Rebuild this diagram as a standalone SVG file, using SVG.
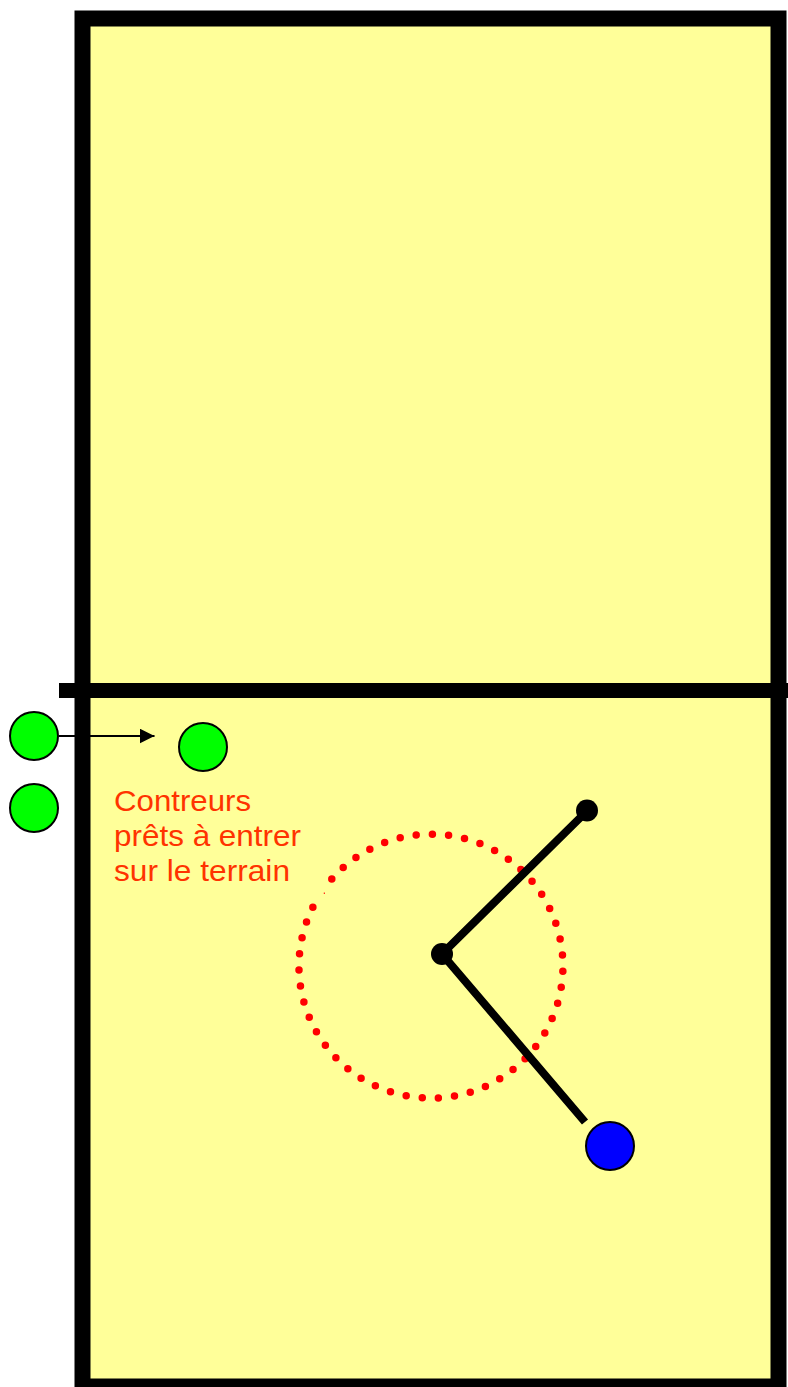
<svg xmlns="http://www.w3.org/2000/svg" width="788" height="1387" viewBox="0 0 788 1387">
<style>
.player{stroke:#000;stroke-width:2}
.green{fill:#00FF00}
.blue{fill:#0000FF}
.lbl{font-family:"Liberation Sans",Arial,sans-serif;font-size:29px;fill:#FF3300}
.arm{stroke:#000;stroke-width:8;fill:none}
</style>
<defs>
<marker id="arr" markerWidth="16" markerHeight="16" refX="15" refY="7.5" orient="auto" markerUnits="userSpaceOnUse" viewBox="0 0 16 16">
<path d="M0,0 L15,7.5 L0,15 z" fill="#000"/>
</marker>
</defs>
<rect width="788" height="1387" fill="#fff"/>
<g id="court">
<rect x="82.5" y="18.5" width="696" height="1368" fill="#FFFF99" stroke="#000" stroke-width="16"/>
<line x1="59" y1="690.5" x2="788" y2="690.5" stroke="#000" stroke-width="15"/>
</g>
<g id="zone">
<path d="M331.8,879 A132,132 0 1 1 313.7,905.5" fill="none" stroke="#FF0000" stroke-width="7.5" stroke-linecap="round" stroke-dasharray="0 16.22"/>
<line x1="324.3" y1="892.5" x2="324.3" y2="894" stroke="#FF0000" stroke-width="1"/>
</g>
<g id="connectors">
<line x1="59" y1="736" x2="154.5" y2="736" stroke="#000" stroke-width="2" marker-end="url(#arr)"/>
<polyline class="arm" points="587,811 442,954 585,1122"/>
</g>
<g id="pivot"><circle cx="442" cy="954" r="11" fill="#000"/></g>
<g id="end"><circle cx="587" cy="810.5" r="11" fill="#000"/></g>
<g id="green1"><circle class="player green" cx="34" cy="736" r="24"/></g>
<g id="green2"><circle class="player green" cx="34" cy="808" r="24"/></g>
<g id="green3"><circle class="player green" cx="203" cy="747" r="24"/></g>
<g id="blue"><circle class="player blue" cx="610" cy="1146" r="24"/></g>
<g id="label">
<text class="lbl" x="114" y="810.5" textLength="137" lengthAdjust="spacingAndGlyphs">Contreurs</text>
<text class="lbl" x="114" y="845.5" textLength="187" lengthAdjust="spacingAndGlyphs">prêts à entrer</text>
<text class="lbl" x="114" y="880.5" textLength="176" lengthAdjust="spacingAndGlyphs">sur le terrain</text>
</g>
</svg>
